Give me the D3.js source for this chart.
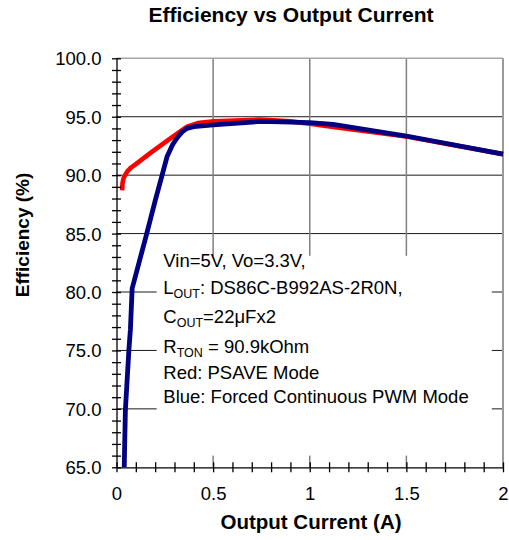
<!DOCTYPE html>
<html>
<head>
<meta charset="utf-8">
<script src="https://cdn.jsdelivr.net/npm/d3@7"></script>
<style>
  html, body { margin: 0; padding: 0; background: #fff; }
  svg { display: block; font-family: "Liberation Sans", Arial, sans-serif; }
</style>
</head>
<body>
<svg id="chart" width="509" height="540"></svg>
<script>
// ---- data ----
const chartTitle = "Efficiency vs Output Current";
const xTitle = "Output Current (A)";
const yTitle = "Efficiency (%)";

const xTickLabels = ["0", "0.5", "1", "1.5", "2"];
const xTickValues = [0, 0.5, 1, 1.5, 2];
const yTickLabels = ["65.0", "70.0", "75.0", "80.0", "85.0", "90.0", "95.0", "100.0"];
const yTickValues = [65, 70, 75, 80, 85, 90, 95, 100];

// Red: PSAVE mode
const redCurrent = [0.029, 0.031, 0.036, 0.041, 0.055, 0.072, 0.10, 0.176, 0.279, 0.365, 0.42, 0.503, 0.744, 0.90, 1.00, 1.15, 1.50, 2.00];
const redEff     = [88.7, 89.3, 89.7, 89.9, 90.3, 90.6, 90.95, 91.9, 93.15, 94.15, 94.45, 94.6, 94.75, 94.6, 94.4, 94.05, 93.3, 91.8];

// Blue: forced continuous PWM mode
const blueCurrent = [0.040, 0.046, 0.064, 0.072, 0.081, 0.15, 0.20, 0.236, 0.262, 0.290, 0.314, 0.340, 0.365, 0.40, 0.50, 0.75, 1.00, 1.12, 1.50, 2.00];
const blueEff     = [65.0, 69.9, 75.0, 76.8, 80.3, 84.6, 87.8, 90.0, 91.6, 92.6, 93.2, 93.7, 94.0, 94.15, 94.3, 94.6, 94.5, 94.35, 93.35, 91.8];

const noteLines = [
  [{t: "Vin=5V, Vo=3.3V,"}],
  [{t: "L"}, {t: "OUT", sub: true}, {t: ": DS86C-B992AS-2R0N,"}],
  [{t: "C"}, {t: "OUT", sub: true}, {t: "=22μFx2"}],
  [{t: "R"}, {t: "TON", sub: true}, {t: " = 90.9kOhm"}],
  [{t: "Red: PSAVE Mode"}],
  [{t: "Blue: Forced Continuous PWM Mode"}]
];

// ---- drawing ----
const svg = d3.select("#chart");
svg.append("rect").attr("width", 509).attr("height", 540).attr("fill", "#fff");

const x = d3.scaleLinear().domain([0, 2]).range([116.5, 503]);
const y = d3.scaleLinear().domain([65, 100]).range([467.3, 58.3]);

const g = svg.append("g");

// horizontal grid lines (black)
g.selectAll("line.hgrid")
  .data(yTickValues.filter(v => v > 65 && v < 100))
  .join("line")
  .attr("x1", x(0)).attr("x2", x(2))
  .attr("y1", d => y(d)).attr("y2", d => y(d))
  .attr("stroke", "#1a1a1a").attr("stroke-width", 1);

// vertical grid lines (gray)
g.selectAll("line.vgrid")
  .data(xTickValues.filter(v => v > 0 && v < 2))
  .join("line")
  .attr("x1", d => x(d)).attr("x2", d => x(d))
  .attr("y1", y(100)).attr("y2", y(65))
  .attr("stroke", "#808080").attr("stroke-width", 1.5);

// top and right borders (gray)
g.append("line").attr("x1", x(0)).attr("x2", x(2)).attr("y1", y(100)).attr("y2", y(100))
  .attr("stroke", "#a6a6a6").attr("stroke-width", 1.6);
g.append("line").attr("x1", x(2)).attr("x2", x(2)).attr("y1", y(100)).attr("y2", y(65))
  .attr("stroke", "#9a9a9a").attr("stroke-width", 2);

// note box (white, hides grid)
const boxX0 = 0.208, boxX1 = 1.942, boxY0 = 83.1, boxY1 = 66.0;
g.append("rect")
  .attr("x", x(boxX0)).attr("y", y(boxY0))
  .attr("width", x(boxX1) - x(boxX0)).attr("height", y(boxY1) - y(boxY0))
  .attr("fill", "#fff");

// curves
const line = d3.line().x(d => x(d[0])).y(d => y(d[1])).curve(d3.curveLinear);
const redData = redCurrent.map((c, i) => [c, redEff[i]]);
const blueData = blueCurrent.map((c, i) => [c, blueEff[i]]);
g.append("path").datum(redData).attr("d", line)
  .attr("fill", "none").attr("stroke", "#ff0000").attr("stroke-width", 4.6)
  .attr("stroke-linejoin", "round");
g.append("path").datum(blueData).attr("d", line)
  .attr("fill", "none").attr("stroke", "#000080").attr("stroke-width", 4.8)
  .attr("stroke-linejoin", "round");

// y axis: minor ticks crossing the axis
const yMinor = g.append("g").attr("transform", `translate(${x(0)},0)`)
  .call(d3.axisLeft(y).tickValues(d3.range(65, 100.5, 1)).tickFormat("").tickSizeOuter(0).tickSizeInner(4.5));
yMinor.select(".domain").attr("stroke", "#000").attr("stroke-width", 1.3);
yMinor.selectAll(".tick line").attr("x1", 4.5).attr("x2", -4.5).attr("stroke", "#000").attr("stroke-width", 1.3);

// y axis labels
const yLab = g.append("g").attr("transform", `translate(${x(0)},0)`)
  .call(d3.axisLeft(y).tickValues(yTickValues).tickFormat((d, i) => yTickLabels[i]).tickSize(0).tickPadding(15));
yLab.select(".domain").remove();
yLab.selectAll("text").attr("font-size", 18.5).attr("fill", "#000")
  .attr("font-family", "'Liberation Sans', Arial, sans-serif").attr("dy", "0.35em");

// x axis minor ticks crossing
const xMinor = g.append("g").attr("transform", `translate(0,${y(65)})`)
  .call(d3.axisBottom(x).tickValues(d3.range(0, 2.05, 0.1)).tickFormat("").tickSizeOuter(0).tickSizeInner(5));
xMinor.select(".domain").attr("stroke", "#000").attr("stroke-width", 1.3);
xMinor.selectAll(".tick line").attr("y1", -5).attr("y2", 5).attr("stroke", "#000").attr("stroke-width", 1.3);

// x axis labels
const xLab = g.append("g").attr("transform", `translate(0,${y(65)})`)
  .call(d3.axisBottom(x).tickValues(xTickValues).tickFormat((d, i) => xTickLabels[i]).tickSize(0).tickPadding(20));
xLab.select(".domain").remove();
xLab.selectAll("text").attr("font-size", 18.5).attr("fill", "#000")
  .attr("font-family", "'Liberation Sans', Arial, sans-serif");

// titles
svg.append("text").text(chartTitle)
  .attr("x", 291).attr("y", 21.7).attr("text-anchor", "middle")
  .attr("font-size", 20).attr("font-weight", "bold")
  .attr("textLength", 285).attr("lengthAdjust", "spacingAndGlyphs");
svg.append("text").text(xTitle)
  .attr("x", 311).attr("y", 529).attr("text-anchor", "middle")
  .attr("font-size", 20.5).attr("font-weight", "bold");
svg.append("text").text(yTitle)
  .attr("transform", "translate(28.5,235) rotate(-90)").attr("text-anchor", "middle")
  .attr("font-size", 19).attr("font-weight", "bold");

// note text
const noteBaselines = [266.7, 294.3, 323.3, 353.3, 379.3, 403.3];
const note = g.append("g");
noteLines.forEach((parts, i) => {
  const t = note.append("text").attr("x", 163.3).attr("y", noteBaselines[i])
    .attr("font-size", 18.5).attr("fill", "#000");
  parts.forEach(p => {
    const ts = t.append("tspan").text(p.t);
    if (p.sub) ts.attr("font-size", 12.5).attr("dy", 4);
    else if (t.selectAll("tspan").size() > 1) ts.attr("dy", -4);
  });
});
</script>
</body>
</html>
